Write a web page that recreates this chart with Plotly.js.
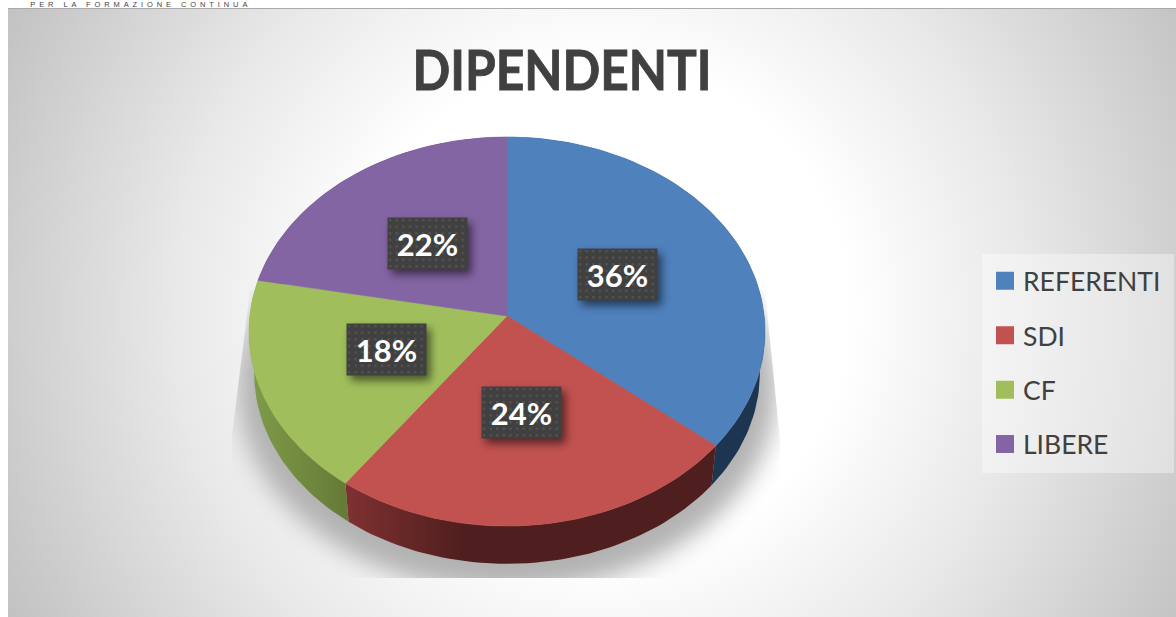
<!DOCTYPE html>
<html>
<head>
<meta charset="utf-8">
<script src="https://cdn.plot.ly/plotly-3.0.1.min.js"></script>
<style>
html,body{margin:0;padding:0;background:#fff;overflow:hidden}
#wrap{position:absolute;left:0;top:0;width:1176px;height:617px}
#bg{position:absolute;left:8px;top:8px;right:0;bottom:0;border-top:1px solid #aaa;
  background:radial-gradient(circle 690px at 592px 302px,#fff 0,#fff 36%,#e8e8e8 62%,#bebebe 100%)}
#chart{position:absolute;left:0;top:0;width:1176px;height:617px}
.annotation .bg{fill:url(#dots)!important;filter:drop-shadow(4px 5px 4px rgba(0,0,0,.55))}
.gtitle{transform-box:fill-box;transform-origin:center;transform:scaleX(.887);stroke:#404040;stroke-width:.9px}
</style>
</head>
<body>
<svg width="0" height="0" style="position:absolute"><defs>
<pattern id="dots" width="6.6" height="6.6" patternUnits="userSpaceOnUse">
<rect width="6.6" height="6.6" fill="#404040"/><rect x="2" y="2" width="2.2" height="2.2" fill="#555"/>
</pattern></defs></svg>
<div id="wrap"><div id="bg"></div><div id="chart"></div></div>
<script>
const categories = ["REFERENTI", "SDI", "CF", "LIBERE"];
const values = [36, 24, 18, 22];
const topColors = ["#4f81bd", "#c25250", "#a0bf5c", "#8465a4"];
const wallScales = [
  [[0, "#1d3550"], [1, "#1d3550"]],
  [[0, "#7f3130"], [0.32, "#4f1e1e"], [1, "#4f1e1e"]],
  [[0, "#809c48"], [1, "#647a37"]],
  [[0, "#4c3c62"], [1, "#4c3c62"]]
];
const chartTitle = "DIPENDENTI";
const clippedHeader = "PER LA FORMAZIONE CONTINUA";

/* perspective view of the pie disc */
const apex = {x: 507, y: 316}, floorApexY = 358, floorScale = 0.98;
const K = -0.0797, A = 257.2, B = 193.3;
function proj(deg, r, cx, cy, s) {
  const t = deg * Math.PI / 180, X = r * Math.sin(t), Y = -r * Math.cos(t), w = 1 + K * Y;
  return [cx + s * A * X / w, cy + s * B * Y / w];
}
const total = values.reduce((a, b) => a + b, 0);
let cum = 0;
const spans = values.map(v => { const a = cum / total * 360; cum += v; return [a, cum / total * 360]; });
function arc(a, b, cx, cy, s) {
  const pts = [], n = Math.max(2, Math.ceil((b - a) / 1.5));
  for (let i = 0; i <= n; i++) pts.push(proj(a + (b - a) * i / n, 1, cx, cy, s));
  return pts;
}

const traces = [];
/* soft floor shadow */
const shadowPts = arc(0, 360, apex.x, 372, 1.045);
traces.push({type: "scatter", mode: "lines", x: shadowPts.map(p => p[0]), y: shadowPts.map(p => p[1]),
  fill: "toself", fillcolor: "#b2b2b2", line: {width: 0, color: "#b2b2b2"}, showlegend: false, hoverinfo: "skip"});
/* side walls */
spans.forEach((sp, i) => {
  const top = arc(sp[0], sp[1], apex.x, apex.y, 1);
  const bot = arc(sp[0], sp[1], apex.x, floorApexY, floorScale).reverse();
  const pts = top.concat(bot); pts.push(top[0]);
  traces.push({type: "scatter", mode: "lines", x: pts.map(p => p[0]), y: pts.map(p => p[1]), fill: "toself",
    fillgradient: {type: "horizontal", colorscale: wallScales[i]},
    line: {width: 0, color: wallScales[i][0][1]}, showlegend: false, hoverinfo: "skip"});
});
/* top face */
spans.forEach((sp, i) => {
  const pts = [[apex.x, apex.y]].concat(arc(sp[0], sp[1], apex.x, apex.y, 1)); pts.push([apex.x, apex.y]);
  traces.push({type: "scatter", mode: "lines", x: pts.map(p => p[0]), y: pts.map(p => p[1]), fill: "toself",
    fillcolor: topColors[i], line: {width: 0.6, color: topColors[i]}, name: categories[i], showlegend: false,
    hovertemplate: categories[i] + ": " + values[i] + "%<extra></extra>"});
});
/* legend keys */
categories.forEach((c, i) => {
  traces.push({type: "scatter", mode: "markers", x: [null], y: [null], name: c, legendgroup: c,
    marker: {symbol: "square", size: 16, color: topColors[i], line: {width: 2, color: topColors[i]}}});
});

const labels = values.map((v, i) => {
  const p = proj((spans[i][0] + spans[i][1]) / 2, 0.49, apex.x - 1.5, apex.y - 1.5, 1);
  return {x: p[0], y: p[1], xref: "x", yref: "y", text: "<b>" + v + "%</b>", showarrow: false, width: 77, height: 49,
    bgcolor: "#404040", font: {family: "Lato, 'Open Sans', sans-serif", size: 31, color: "#fff"}};
});

const layout = {
  width: 1176, height: 617, margin: {l: 0, r: 0, t: 0, b: 0},
  paper_bgcolor: "rgba(0,0,0,0)", plot_bgcolor: "rgba(0,0,0,0)",
  title: {text: "<b>" + chartTitle + "</b>", x: 562 / 1176, xanchor: "center", y: 1 - 70 / 617, yanchor: "middle",
    font: {family: "Lato, 'Open Sans', sans-serif", size: 56, color: "#404040"}},
  xaxis: {range: [0, 1176], visible: false, fixedrange: true},
  yaxis: {range: [617, 0], visible: false, fixedrange: true},
  annotations: labels.concat([{x: 141 / 1176, y: 1, xref: "paper", yref: "paper", xanchor: "center", yanchor: "top",
    text: clippedHeader, showarrow: false, borderpad: 0, borderwidth: 0,
    font: {family: "'Liberation Sans', Arial, sans-serif", size: 7.5, color: "#444"}}]),
  shapes: [{type: "rect", layer: "below", xref: "x", yref: "y", x0: 982, x1: 1174, y0: 254, y1: 473,
    fillcolor: "rgba(255,255,255,0.38)", line: {width: 0}}],
  showlegend: true,
  legend: {x: 985 / 1176, xanchor: "left", y: 1 - 257 / 617, yanchor: "top", bgcolor: "rgba(0,0,0,0)",
    font: {family: "Lato, 'Open Sans', sans-serif", size: 26.5, color: "#404040"}, itemwidth: 30,
    tracegroupgap: 17, itemclick: false, itemdoubleclick: false, entrywidth: 150, entrywidthmode: "pixels"}
};
Plotly.newPlot("chart", traces, layout, {staticPlot: true, displayModeBar: false}).then(gd => {
  const t0 = gd.querySelector(".scatterlayer .trace");
  if (t0) {
    t0.style.filter = "blur(12px)";
    t0.style.clipPath = "polygon(250px 290px,765px 290px,780px 440px,780px 578px,232px 578px,232px 435px) view-box";
  }
  gd.querySelectorAll(".annotation-text").forEach(n => {
    if (n.textContent === clippedHeader) n.style.letterSpacing = "3.9px";
  });
  gd.querySelectorAll(".legendtext").forEach(n => {
    n.setAttribute("x", parseFloat(n.getAttribute("x")) - 2);
  });
});
</script>
</body>
</html>
